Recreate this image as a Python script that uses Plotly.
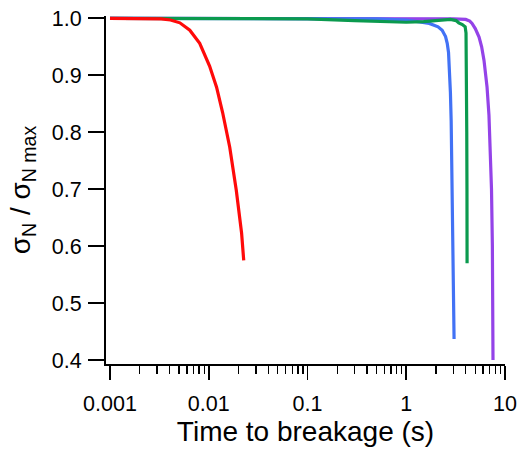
import plotly.graph_objects as go

# Data
red_t = [0.001, 0.002, 0.0033, 0.0041, 0.0051, 0.00643, 0.0081, 0.0102, 0.012, 0.0138, 0.0163, 0.019, 0.0215, 0.0226]
red_v = [1.0, 1.0, 0.999, 0.997, 0.992, 0.979, 0.956, 0.916, 0.879, 0.835, 0.774, 0.698, 0.623, 0.575]

blue_t = [0.001, 0.1, 0.5, 1.0, 1.4, 1.71, 2.1, 2.31, 2.5, 2.6, 2.68, 2.74, 2.8, 2.85, 2.92, 2.99, 3.05]
blue_v = [1.0, 1.0, 0.999, 0.997, 0.994, 0.991, 0.985, 0.979, 0.968, 0.956, 0.94, 0.91, 0.87, 0.82, 0.68, 0.563, 0.437]

green_t = [0.001, 0.1, 0.3, 0.6, 1.0, 1.5, 2.0, 2.8, 3.2, 3.4, 3.7, 3.95, 4.03, 4.08, 4.1, 4.12, 4.13]
green_v = [1.0, 0.999, 0.996, 0.994, 0.993, 0.994, 0.996, 0.998, 0.996, 0.992, 0.989, 0.985, 0.974, 0.9, 0.8, 0.7, 0.57]

purple_t = [0.001, 1.0, 3.0, 4.0, 4.4, 4.64, 5.0, 5.46, 5.8, 6.13, 6.4, 6.58, 6.88, 7.1, 7.3, 7.45, 7.53, 7.56]
purple_v = [1.0, 1.0, 0.999, 0.998, 0.995, 0.991, 0.982, 0.967, 0.95, 0.926, 0.9, 0.879, 0.83, 0.77, 0.7, 0.6, 0.5, 0.40]

x_tickvals = [0.001, 0.01, 0.1, 1, 10]
x_ticktext = ["0.001", "0.01", "0.1", "1", "10"]
y_tickvals = [0.4, 0.5, 0.6, 0.7, 0.8, 0.9, 1.0]

FONT = "Liberation Sans, Arial, sans-serif"

fig = go.Figure()
series = [
    (purple_t, purple_v, "#9443E8"),
    (blue_t, blue_v, "#4272F5"),
    (green_t, green_v, "#0B9A4E"),
    (red_t, red_v, "#FF0A0A"),
]
for t, v, c in series:
    fig.add_trace(go.Scatter(x=t, y=v, mode="lines",
                             line=dict(color=c, width=3.2, shape="linear"),
                             showlegend=False, hoverinfo="skip"))

fig.update_layout(
    width=522, height=449,
    margin=dict(l=106, r=17, t=16, b=85),
    paper_bgcolor="white", plot_bgcolor="white",
    font=dict(family=FONT, size=21.5, color="black"),
    xaxis=dict(
        type="log", range=[-3.0405, 1.0], automargin=False,
        tickvals=x_tickvals, ticktext=x_ticktext,
        showline=True, linecolor="black", linewidth=2,
        ticks="outside", ticklen=14, tickwidth=1.6, tickcolor="black",
        minor=dict(ticks="outside", ticklen=8, tickwidth=1.4, tickcolor="black", dtick="D1", showgrid=False),
        showgrid=False, zeroline=False,
        title=dict(text="Time to breakage (s)", font=dict(size=28), standoff=0),
        tickfont=dict(size=21.5),
        ticklabelstandoff=5,
        ticklabeloverflow="allow",
    ),
    yaxis=dict(
        range=[0.393, 1.004], automargin=False,
        tickvals=y_tickvals, tickformat=".1f",
        showline=True, linecolor="black", linewidth=2,
        ticks="outside", ticklen=16, tickwidth=1.6, tickcolor="black",
        showgrid=False, zeroline=False,
        title=dict(text="σ<sub>N</sub> / σ<sub>N max</sub>", font=dict(size=28), standoff=13),
        tickfont=dict(size=21.5),
        ticklabelstandoff=2,
        ticklabeloverflow="allow",
    ),
)

# remove the default 8px page margin so the figure sits at the window origin
fig.write_html("out.html",
               config={"displayModeBar": False, "staticPlot": True},
               post_script="document.body.style.margin='0';document.body.style.overflow='hidden';")
